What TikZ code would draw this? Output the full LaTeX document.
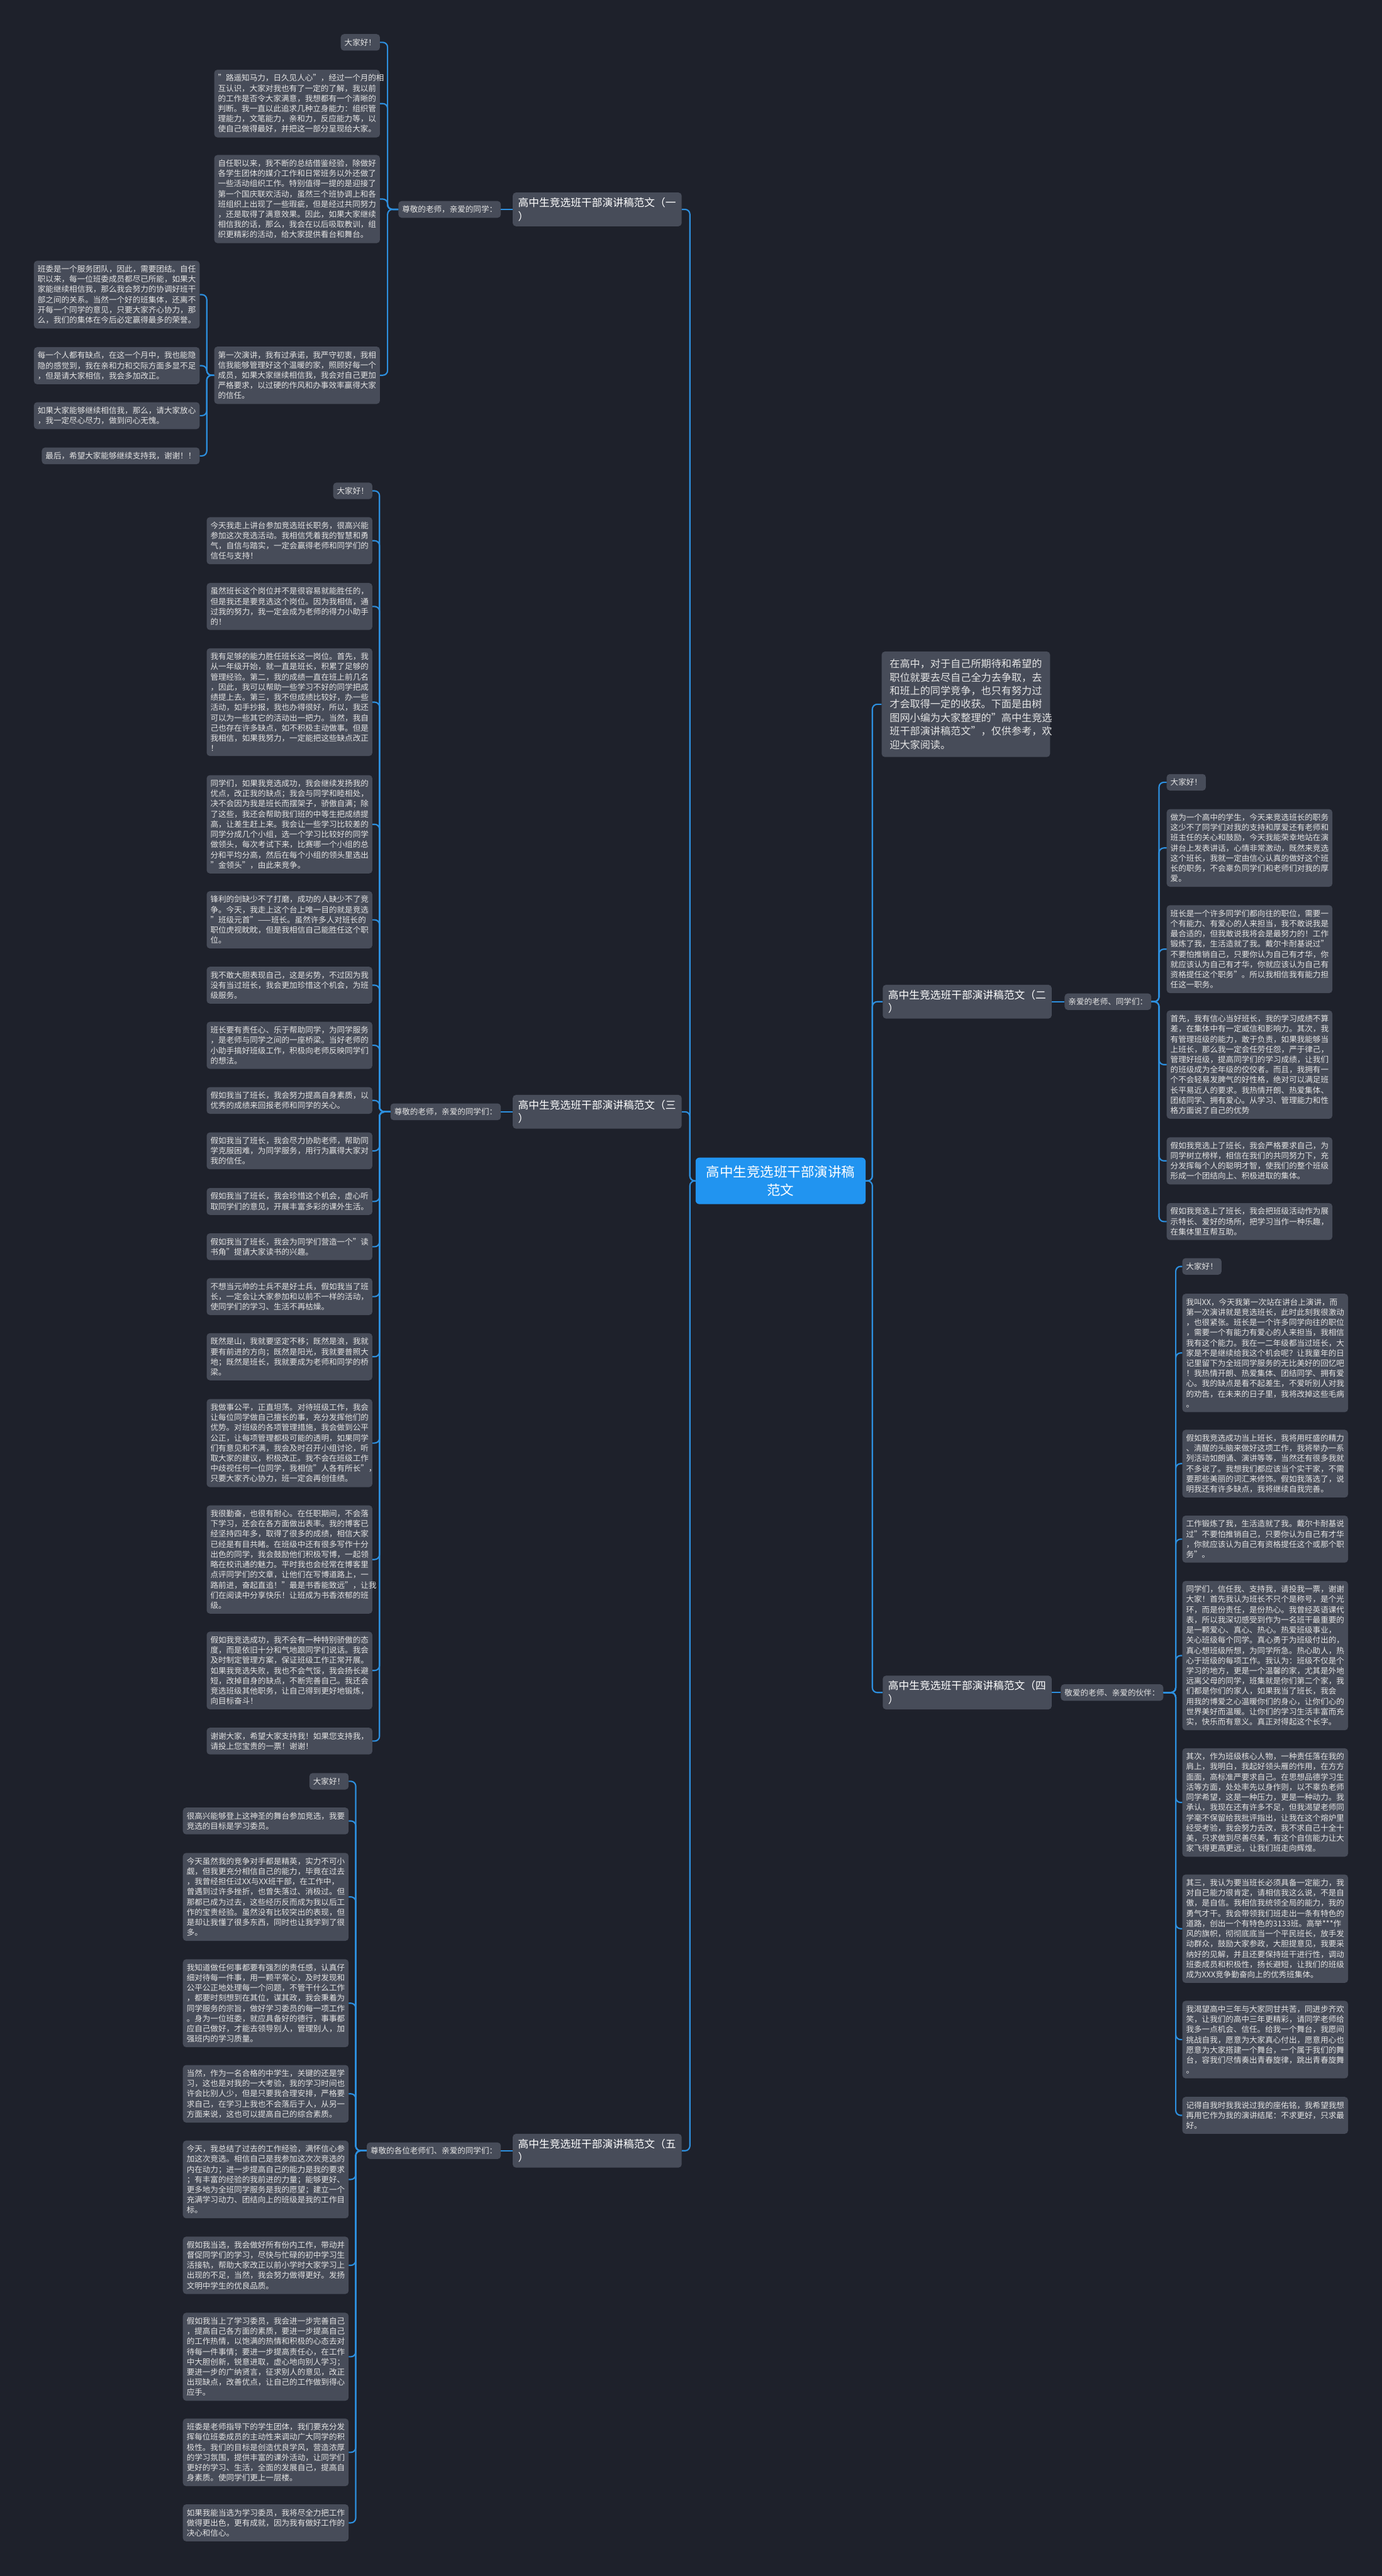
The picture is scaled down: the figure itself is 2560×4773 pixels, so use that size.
\documentclass[tikz,border=0pt]{standalone}
\usepackage{fontspec}
\setmainfont{Noto Sans CJK SC}
\usetikzlibrary{calc, positioning}
\definecolor{bgcol}{RGB}{30,33,43}
\definecolor{boxcol}{RGB}{71,76,89}
\definecolor{txtcol}{RGB}{228,228,228}
\definecolor{linecol}{RGB}{45,143,222}
\definecolor{rootcol}{RGB}{33,148,240}

\begin{document}
\begin{tikzpicture}[x=1pt, y=-1pt,
  conn/.style={linecol, line width=2.5pt, rounded corners=9pt},
  textbox/.style={fill=boxcol, text=txtcol, rounded corners=6pt, align=left, text width=293pt, inner xsep=7pt, inner ysep=8.5pt, font=\fontsize{14.65pt}{18.9pt}\selectfont},
  greet/.style={fill=boxcol, text=txtcol, rounded corners=6pt, inner xsep=7pt, inner ysep=8.5pt, font=\fontsize{14.65pt}{18.9pt}\selectfont},
  topic/.style={fill=boxcol, text=white, rounded corners=6pt, align=left, text width=293pt, inner xsep=10pt, inner ysep=9.5pt, font=\fontsize{19.5pt}{25pt}\selectfont},
  introbox/.style={fill=boxcol, text=txtcol, rounded corners=6pt, align=left, text width=282pt, inner xsep=15pt, inner ysep=14pt, font=\fontsize{18.8pt}{25pt}\selectfont},
  rootbox/.style={fill=rootcol, text=white, rounded corners=7pt, align=center, inner xsep=20pt, inner ysep=15pt, font=\fontsize{25pt}{33pt}\selectfont}]
\useasboundingbox (0,0) rectangle (2560,4773);
\fill[bgcol] (0,0) rectangle (2560,4773);

\coordinate (tl) at (1278,0);
\coordinate (tr) at (1616,0);
\coordinate (j1) at (718,0);
\coordinate (jd) at (383,0);
\coordinate (j3) at (703,0);
\coordinate (j5) at (659,0);
\coordinate (j2) at (2147,0);
\coordinate (j4) at (2178,0);

\node[rootbox] (root) at (1446,2188) {高中生竞选班干部演讲稿\\范文};

\node[introbox, anchor=north west] (intro) at (1633,1207) {在高中，对于自己所期待和希望的\\
职位就要去尽自己全力去争取，去\\
和班上的同学竞争，也只有努力过\\
才会取得一定的收获。下面是由树\\
图网小编为大家整理的"高中生竞选\\
班干部演讲稿范文"，仅供参考，欢\\
迎大家阅读。};

\node[topic, anchor=east] (one) at (1263,388) {高中生竞选班干部演讲稿范文（一\\）};
\node[topic, anchor=west] (two) at (1635,1856) {高中生竞选班干部演讲稿范文（二\\）};
\node[topic, anchor=east] (three) at (1263,2060) {高中生竞选班干部演讲稿范文（三\\）};
\node[topic, anchor=west] (four) at (1635,3136) {高中生竞选班干部演讲稿范文（四\\）};
\node[topic, anchor=east] (five) at (1263,3985) {高中生竞选班干部演讲稿范文（五\\）};

\node[greet, anchor=east] (g1) at (928,388) {尊敬的老师，亲爱的同学：};
\node[greet, anchor=west] (g2) at (1972,1856) {亲爱的老师、同学们：};
\node[greet, anchor=east] (g3) at (928,2060) {尊敬的老师，亲爱的同学们：};
\node[greet, anchor=west] (g4) at (1965,3136) {敬爱的老师、亲爱的伙伴：};
\node[greet, anchor=east] (g5) at (928,3985) {尊敬的各位老师们、亲爱的同学们：};

% (一)
\node[greet, anchor=north east] (c1-0) at (704,63) {大家好！};
\node[textbox, anchor=north east] (c1-1) at (704,129) {"路遥知马力，日久见人心"，经过一个月的相\\
互认识，大家对我也有了一定的了解，我以前\\
的工作是否令大家满意，我想都有一个清晰的\\
判断。我一直以此追求几种立身能力：组织管\\
理能力，文笔能力，亲和力，反应能力等，以\\
使自己做得最好，并把这一部分呈现给大家。};
\node[textbox, anchor=north east] (c1-2) at (704,287) {自任职以来，我不断的总结借鉴经验，除做好\\
各学生团体的媒介工作和日常班务以外还做了\\
一些活动组织工作。特别值得一提的是迎接了\\
第一个国庆联欢活动，虽然三个班协调上和各\\
班组织上出现了一些瑕疵，但是经过共同努力\\
，还是取得了满意效果。因此，如果大家继续\\
相信我的话，那么，我会在以后吸取教训，组\\
织更精彩的活动，给大家提供看台和舞台。};
\node[textbox, anchor=north east] (c1-3) at (704,642) {第一次演讲，我有过承诺，我严守初衷，我相\\
信我能够管理好这个温暖的家，照顾好每一个\\
成员，如果大家继续相信我，我会对自己更加\\
严格要求，以过硬的作风和办事效率赢得大家\\
的信任。};
\node[textbox, anchor=north east] (d1) at (370,483) {班委是一个服务团队，因此，需要团结。自任\\
职以来，每一位班委成员都尽已所能，如果大\\
家能继续相信我，那么我会努力的协调好班干\\
部之间的关系。当然一个好的班集体，还离不\\
开每一个同学的意见，只要大家齐心协力，那\\
么，我们的集体在今后必定赢得最多的荣誉。};
\node[textbox, anchor=north east] (d2) at (370,643) {每一个人都有缺点，在这一个月中，我也能隐\\
隐的感觉到，我在亲和力和交际方面多显不足\\
，但是请大家相信，我会多加改正。};
\node[textbox, anchor=north east] (d3) at (370,745) {如果大家能够继续相信我，那么，请大家放心\\
，我一定尽心尽力，做到问心无愧。};
\node[greet, anchor=north east] (d4) at (370,829) {最后，希望大家能够继续支持我，谢谢！！};

% (三)
\node[greet, anchor=north east] (c3-0) at (690,894) {大家好！};
\node[textbox, anchor=north east] (c3-1) at (690,958) {今天我走上讲台参加竞选班长职务，很高兴能\\
参加这次竞选活动。我相信凭着我的智慧和勇\\
气，自信与踏实，一定会赢得老师和同学们的\\
信任与支持！};
\node[textbox, anchor=north east] (c3-2) at (690,1080) {虽然班长这个岗位并不是很容易就能胜任的，\\
但是我还是要竞选这个岗位。因为我相信，通\\
过我的努力，我一定会成为老师的得力小助手\\
的！};
\node[textbox, anchor=north east] (c3-3) at (690,1201) {我有足够的能力胜任班长这一岗位。首先，我\\
从一年级开始，就一直是班长，积累了足够的\\
管理经验。第二，我的成绩一直在班上前几名\\
，因此，我可以帮助一些学习不好的同学把成\\
绩提上去。第三，我不但成绩比较好，办一些\\
活动，如手抄报，我也办得很好，所以，我还\\
可以为一些其它的活动出一把力。当然，我自\\
己也存在许多缺点，如不积极主动做事。但是\\
我相信，如果我努力，一定能把这些缺点改正\\
！};
\node[textbox, anchor=north east] (c3-4) at (690,1436) {同学们，如果我竞选成功，我会继续发扬我的\\
优点，改正我的缺点；我会与同学和睦相处，\\
决不会因为我是班长而摆架子，骄傲自满；除\\
了这些，我还会帮助我们班的中等生把成绩提\\
高，让差生赶上来。我会让一些学习比较差的\\
同学分成几个小组，选一个学习比较好的同学\\
做领头，每次考试下来，比赛哪一个小组的总\\
分和平均分高，然后在每个小组的领头里选出\\
"金领头"，由此来竞争。};
\node[textbox, anchor=north east] (c3-5) at (690,1651) {锋利的剑缺少不了打磨，成功的人缺少不了竞\\
争。今天，我走上这个台上唯一目的就是竞选\\
"班级元首"——班长。虽然许多人对班长的\\
职位虎视眈眈，但是我相信自己能胜任这个职\\
位。};
\node[textbox, anchor=north east] (c3-6) at (690,1791) {我不敢大胆表现自己，这是劣势，不过因为我\\
没有当过班长，我会更加珍惜这个机会，为班\\
级服务。};
\node[textbox, anchor=north east] (c3-7) at (690,1893) {班长要有责任心、乐于帮助同学，为同学服务\\
，是老师与同学之间的一座桥梁。当好老师的\\
小助手搞好班级工作，积极向老师反映同学们\\
的想法。};
\node[textbox, anchor=north east] (c3-8) at (690,2014) {假如我当了班长，我会努力提高自身素质，以\\
优秀的成绩来回报老师和同学的关心。};
\node[textbox, anchor=north east] (c3-9) at (690,2098) {假如我当了班长，我会尽力协助老师，帮助同\\
学克服困难，为同学服务，用行为赢得大家对\\
我的信任。};
\node[textbox, anchor=north east] (c3-10) at (690,2201) {假如我当了班长，我会珍惜这个机会，虚心听\\
取同学们的意见，开展丰富多彩的课外生活。};
\node[textbox, anchor=north east] (c3-11) at (690,2285) {假如我当了班长，我会为同学们营造一个"读\\
书角"提请大家读书的兴趣。};
\node[textbox, anchor=north east] (c3-12) at (690,2368) {不想当元帅的士兵不是好士兵，假如我当了班\\
长，一定会让大家参加和以前不一样的活动，\\
使同学们的学习、生活不再枯燥。};
\node[textbox, anchor=north east] (c3-13) at (690,2470) {既然是山，我就要坚定不移；既然是浪，我就\\
要有前进的方向；既然是阳光，我就要普照大\\
地；既然是班长，我就要成为老师和同学的桥\\
梁。};
\node[textbox, anchor=north east] (c3-14) at (690,2592) {我做事公平，正直坦荡。对待班级工作，我会\\
让每位同学做自己擅长的事，充分发挥他们的\\
优势。对班级的各项管理措施，我会做到公平\\
公正，让每项管理都极可能的透明，如果同学\\
们有意见和不满，我会及时召开小组讨论，听\\
取大家的建议，积极改正。我不会在班级工作\\
中歧视任何一位同学，我相信"人各有所长"，\\
只要大家齐心协力，班一定会再创佳绩。};
\node[textbox, anchor=north east] (c3-15) at (690,2789) {我很勤奋，也很有耐心。在任职期间，不会落\\
下学习，还会在各方面做出表率。我的博客已\\
经坚持四年多，取得了很多的成绩，相信大家\\
已经是有目共睹。在班级中还有很多写作十分\\
出色的同学，我会鼓励他们积极写博，一起领\\
略在校讯通的魅力。平时我也会经常在博客里\\
点评同学们的文章，让他们在写博道路上，一\\
路前进，奋起直追！"最是书香能致远"，让我\\
们在阅读中分享快乐！让班成为书香浓郁的班\\
级。};
\node[textbox, anchor=north east] (c3-16) at (690,3023) {假如我竞选成功，我不会有一种特别骄傲的态\\
度，而是依旧十分和气地跟同学们说话。我会\\
及时制定管理方案，保证班级工作正常开展。\\
如果我竞选失败，我也不会气馁，我会扬长避\\
短，改掉自身的缺点，不断完善自己。我还会\\
竞选班级其他职务，让自己得到更好地锻炼，\\
向目标奋斗！};
\node[textbox, anchor=north east] (c3-17) at (690,3201) {谢谢大家，希望大家支持我！如果您支持我，\\
请投上您宝贵的一票！谢谢！};

% (五)
\node[greet, anchor=north east] (c5-0) at (646,3285) {大家好！};
\node[textbox, anchor=north east] (c5-1) at (646,3349) {很高兴能够登上这神圣的舞台参加竞选，我要\\
竞选的目标是学习委员。};
\node[textbox, anchor=north east] (c5-2) at (646,3433) {今天虽然我的竞争对手都是精英，实力不可小\\
觑，但我更充分相信自己的能力，毕竟在过去\\
，我曾经担任过XX与XX班干部，在工作中，\\
曾遇到过许多挫折，也曾失落过、消极过。但\\
那都已成为过去，这些经历反而成为我以后工\\
作的宝贵经验。虽然没有比较突出的表现，但\\
是却让我懂了很多东西，同时也让我学到了很\\
多。};
\node[textbox, anchor=north east] (c5-3) at (646,3630) {我知道做任何事都要有强烈的责任感，认真仔\\
细对待每一件事，用一颗平常心，及时发现和\\
公平公正地处理每一个问题，不管干什么工作\\
，都要时刻想到在其位，谋其政，我会秉着为\\
同学服务的宗旨，做好学习委员的每一项工作\\
。身为一位班委，就应具备好的德行，事事都\\
应自己做好，才能去领导别人，管理别人，加\\
强班内的学习质量。};
\node[textbox, anchor=north east] (c5-4) at (646,3826) {当然，作为一名合格的中学生，关键的还是学\\
习，这也是对我的一大考验，我的学习时间也\\
许会比别人少，但是只要我合理安排，严格要\\
求自己，在学习上我也不会落后于人，从另一\\
方面来说，这也可以提高自己的综合素质。};
\node[textbox, anchor=north east] (c5-5) at (646,3966) {今天，我总结了过去的工作经验，满怀信心参\\
加这次竞选。相信自己是我参加这次次竞选的\\
内在动力；进一步提高自己的能力是我的要求\\
；有丰富的经验的我前进的力量；能够更好、\\
更多地为全班同学服务是我的愿望；建立一个\\
充满学习动力、团结向上的班级是我的工作目\\
标。};
\node[textbox, anchor=north east] (c5-6) at (646,4144) {假如我当选，我会做好所有份内工作，带动并\\
督促同学们的学习，尽快与忙碌的初中学习生\\
活接轨，帮助大家改正以前小学时大家学习上\\
出现的不足，当然，我会努力做得更好。发扬\\
文明中学生的优良品质。};
\node[textbox, anchor=north east] (c5-7) at (646,4285) {假如我当上了学习委员，我会进一步完善自己\\
，提高自己各方面的素质，要进一步提高自己\\
的工作热情，以饱满的热情和积极的心态去对\\
待每一件事情；要进一步提高责任心，在工作\\
中大胆创新，锐意进取，虚心地向别人学习；\\
要进一步的广纳贤言，征求别人的意见，改正\\
出现缺点，改善优点，让自己的工作做到得心\\
应手。};
\node[textbox, anchor=north east] (c5-8) at (646,4481) {班委是老师指导下的学生团体，我们要充分发\\
挥每位班委成员的主动性来调动广大同学的积\\
极性。我们的目标是创造优良学风，营造浓厚\\
的学习氛围，提供丰富的课外活动，让同学们\\
更好的学习、生活，全面的发展自己，提高自\\
身素质。使同学们更上一层楼。};
\node[textbox, anchor=north east] (c5-9) at (646,4640) {如果我能当选为学习委员，我将尽全力把工作\\
做得更出色，更有成就，因为我有做好工作的\\
决心和信心。};

% (二)
\node[greet, anchor=north west] (c2-0) at (2161,1434) {大家好！};
\node[textbox, anchor=north west] (c2-1) at (2161,1499) {做为一个高中的学生，今天来竞选班长的职务\\
这少不了同学们对我的支持和厚爱还有老师和\\
班主任的关心和鼓励，今天我能荣幸地站在演\\
讲台上发表讲话，心情非常激动，既然来竞选\\
这个班长，我就一定由信心认真的做好这个班\\
长的职务，不会辜负同学们和老师们对我的厚\\
爱。};
\node[textbox, anchor=north west] (c2-2) at (2161,1677) {班长是一个许多同学们都向往的职位，需要一\\
个有能力、有爱心的人来担当，我不敢说我是\\
最合适的，但我敢说我将会是最努力的！工作\\
锻炼了我，生活造就了我。戴尔卡耐基说过"\\
不要怕推销自己，只要你认为自己有才华，你\\
就应该认为自己有才华，你就应该认为自己有\\
资格提任这个职务"。所以我相信我有能力担\\
任这一职务。};
\node[textbox, anchor=north west] (c2-3) at (2161,1872) {首先，我有信心当好班长，我的学习成绩不算\\
差，在集体中有一定威信和影响力。其次，我\\
有管理班级的能力，敢于负责，如果我能够当\\
上班长，那么我一定会任劳任怨，严于律己，\\
管理好班级，提高同学们的学习成绩，让我们\\
的班级成为全年级的佼佼者。而且，我拥有一\\
个不会轻易发脾气的好性格，绝对可以满足班\\
长平易近人的要求。我热情开朗、热爱集体、\\
团结同学、拥有爱心。从学习、管理能力和性\\
格方面说了自己的优势};
\node[textbox, anchor=north west] (c2-4) at (2161,2107) {假如我竞选上了班长，我会严格要求自己，为\\
同学树立榜样，相信在我们的共同努力下，充\\
分发挥每个人的聪明才智，使我们的整个班级\\
形成一个团结向上、积极进取的集体。};
\node[textbox, anchor=north west] (c2-5) at (2161,2229) {假如我竞选上了班长，我会把班级活动作为展\\
示特长、爱好的场所，把学习当作一种乐趣，\\
在集体里互帮互助。};

% (四)
\node[greet, anchor=north west] (c4-0) at (2190,2331) {大家好！};
\node[textbox, anchor=north west] (c4-1) at (2190,2397) {我叫XX，今天我第一次站在讲台上演讲，而\\
第一次演讲就是竞选班长，此时此刻我很激动\\
，也很紧张。班长是一个许多同学向往的职位\\
，需要一个有能力有爱心的人来担当，我相信\\
我有这个能力。我在一二年级都当过班长，大\\
家是不是继续给我这个机会呢？让我童年的日\\
记里留下为全班同学服务的无比美好的回忆吧\\
！我热情开朗、热爱集体、团结同学、拥有爱\\
心。我的缺点是看不起差生，不爱听别人对我\\
的劝告，在未来的日子里，我将改掉这些毛病\\
。};
\node[textbox, anchor=north west] (c4-2) at (2190,2649) {假如我竞选成功当上班长，我将用旺盛的精力\\
、清醒的头脑来做好这项工作，我将举办一系\\
列活动如朗诵、演讲等等，当然还有很多我就\\
不多说了。我想我们都应该当个实干家，不需\\
要那些美丽的词汇来修饰。假如我落选了，说\\
明我还有许多缺点，我将继续自我完善。};
\node[textbox, anchor=north west] (c4-3) at (2190,2808) {工作锻炼了我，生活造就了我。戴尔卡耐基说\\
过"不要怕推销自己，只要你认为自己有才华\\
，你就应该认为自己有资格提任这个或那个职\\
务"。};
\node[textbox, anchor=north west] (c4-4) at (2190,2929) {同学们，信任我、支持我，请投我一票，谢谢\\
大家！首先我认为班长不只个是称号，是个光\\
环，而是份责任，是份热心。我曾经英语课代\\
表，所以我深切感受到作为一名班干最重要的\\
是一颗爱心、真心、热心。热爱班级事业，\\
关心班级每个同学。真心勇于为班级付出的，\\
真心想班级所想，为同学所急。热心助人，热\\
心于班级的每项工作。我认为：班级不仅是个\\
学习的地方，更是一个温馨的家，尤其是外地\\
远离父母的同学，班集就是你们第二个家，我\\
们都是你们的家人，如果我当了班长，我会\\
用我的博爱之心温暖你们的身心，让你们心的\\
世界美好而温暖。让你们的学习生活丰富而充\\
实，快乐而有意义。真正对得起这个长字。};
\node[textbox, anchor=north west] (c4-5) at (2190,3239) {其次，作为班级核心人物，一种责任落在我的\\
肩上，我明白，我起好领头雁的作用，在方方\\
面面，高标准严要求自己。在思想品德学习生\\
活等方面，处处率先以身作则，以不辜负老师\\
同学希望，这是一种压力，更是一种动力。我\\
承认，我现在还有许多不足，但我渴望老师同\\
学毫不保留给我批评指出，让我在这个熔炉里\\
经受考验，我会努力去改，我不求自己十全十\\
美，只求做到尽善尽美，有这个自信能力让大\\
家飞得更高更远，让我们班走向辉煌。};
\node[textbox, anchor=north west] (c4-6) at (2190,3473) {其三，我认为要当班长必须具备一定能力，我\\
对自己能力很肯定，请相信我这么说，不是自\\
傲，是自信。我相信我统领全局的能力，我的\\
勇气才干。我会带领我们班走出一条有特色的\\
道路，创出一个有特色的3133班。高举***作\\
风的旗帜，彻彻底底当一个平民班长，放手发\\
动群众，鼓励大家参政，大胆提意见，我要采\\
纳好的见解，并且还要保持班干进行性，调动\\
班委成员和积极性，扬长避短，让我们的班级\\
成为XXX竞争勤奋向上的优秀班集体。};
\node[textbox, anchor=north west] (c4-7) at (2190,3707) {我渴望高中三年与大家同甘共苦，同进步齐欢\\
笑，让我们的高中三年更精彩，请同学老师给\\
我多一点机会、信任。给我一个舞台，我愿间\\
挑战自我，愿意为大家真心付出，愿意用心也\\
愿意为大家搭建一个舞台，一个属于我们的舞\\
台，容我们尽情奏出青春旋律，跳出青春旋舞\\
。};
\node[textbox, anchor=north west] (c4-8) at (2190,3885) {记得自我时我我说过我的座佑铭，我希望我想\\
再用它作为我的演讲结尾：不求更好，只求最\\
好。};

% connectors
\foreach \t in {one,three,five}
  \draw[conn] (root.west) -- (tl |- root.west) |- (\t.east);
\foreach \t in {intro,two,four}
  \draw[conn] (root.east) -- (tr |- root.east) |- (\t.west);
\draw[conn] (one.west) -- (g1.east);
\draw[conn] (two.east) -- (g2.west);
\draw[conn] (three.west) -- (g3.east);
\draw[conn] (four.east) -- (g4.west);
\draw[conn] (five.west) -- (g5.east);
\foreach \k in {0,...,3}
  \draw[conn] (g1.west) -- (j1 |- g1.west) |- (c1-\k.east);
\foreach \k in {1,...,4}
  \draw[conn] (c1-3.west) -- (jd |- c1-3.west) |- (d\k.east);
\foreach \k in {0,...,17}
  \draw[conn] (g3.west) -- (j3 |- g3.west) |- (c3-\k.east);
\foreach \k in {0,...,9}
  \draw[conn] (g5.west) -- (j5 |- g5.west) |- (c5-\k.east);
\foreach \k in {0,...,5}
  \draw[conn] (g2.east) -- (j2 |- g2.east) |- (c2-\k.west);
\foreach \k in {0,...,8}
  \draw[conn] (g4.east) -- (j4 |- g4.east) |- (c4-\k.west);
\end{tikzpicture}
\end{document}
